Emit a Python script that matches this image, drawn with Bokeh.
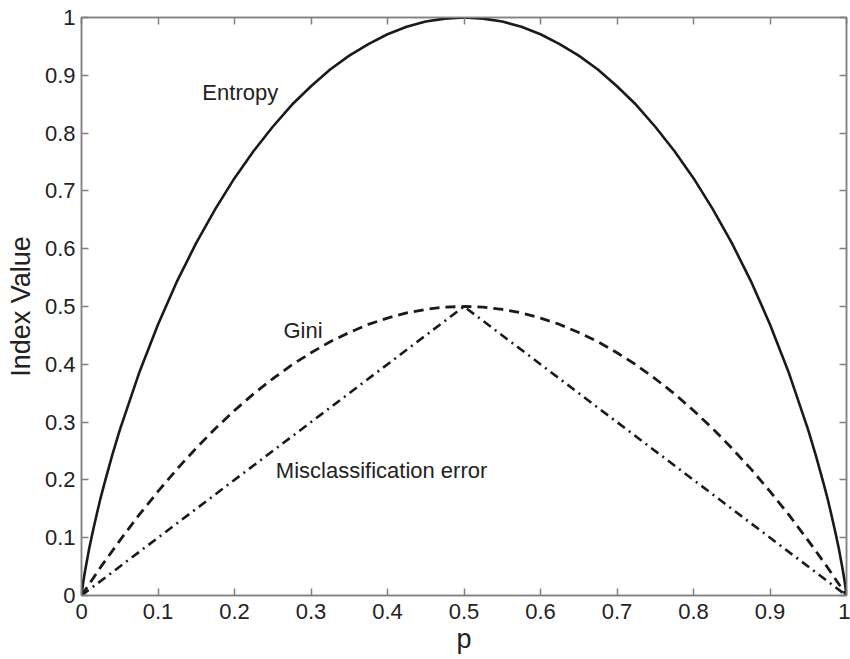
from bokeh.plotting import figure
from bokeh.models import Range1d, LinearAxis, FixedTicker, Label
from bokeh.embed import file_html
from bokeh.resources import INLINE

# ---- data ----
p_entropy = [0, 0.0025, 0.005, 0.01, 0.015, 0.02, 0.025, 0.03, 0.04, 0.05, 0.075, 0.1, 0.125, 0.15, 0.175,
             0.2, 0.225, 0.25, 0.275, 0.3, 0.325, 0.35, 0.375, 0.4, 0.425, 0.45, 0.475, 0.5,
             0.525, 0.55, 0.575, 0.6, 0.625, 0.65, 0.675, 0.7, 0.725, 0.75, 0.775, 0.8, 0.825,
             0.85, 0.875, 0.9, 0.925, 0.95, 0.96, 0.97, 0.975, 0.98, 0.985, 0.99, 0.995, 0.9975, 1]
entropy = [0, 0.025, 0.045, 0.081, 0.112, 0.141, 0.169, 0.194, 0.242, 0.286, 0.384, 0.469, 0.544, 0.610, 0.669,
           0.722, 0.769, 0.811, 0.849, 0.881, 0.910, 0.934, 0.954, 0.971, 0.984, 0.993, 0.998, 1.0,
           0.998, 0.993, 0.984, 0.971, 0.954, 0.934, 0.910, 0.881, 0.849, 0.811, 0.769, 0.722, 0.669,
           0.610, 0.544, 0.469, 0.384, 0.286, 0.242, 0.194, 0.169, 0.141, 0.112, 0.081, 0.045, 0.025, 0]

p_gini = [0, 0.025, 0.05, 0.075, 0.1, 0.125, 0.15, 0.175, 0.2, 0.225, 0.25, 0.275, 0.3, 0.325, 0.35, 0.375,
          0.4, 0.425, 0.45, 0.475, 0.5, 0.525, 0.55, 0.575, 0.6, 0.625, 0.65, 0.675, 0.7, 0.725, 0.75,
          0.775, 0.8, 0.825, 0.85, 0.875, 0.9, 0.925, 0.95, 0.975, 1]
gini = [0, 0.049, 0.095, 0.139, 0.18, 0.219, 0.255, 0.289, 0.32, 0.349, 0.375, 0.399, 0.42, 0.439, 0.455, 0.469,
        0.48, 0.489, 0.495, 0.499, 0.5, 0.499, 0.495, 0.489, 0.48, 0.469, 0.455, 0.439, 0.42, 0.399, 0.375,
        0.349, 0.32, 0.289, 0.255, 0.219, 0.18, 0.139, 0.095, 0.049, 0]

p_misc = [0, 0.5, 1]
misc = [0, 0.5, 0]

tick_values = [0, 0.1, 0.2, 0.3, 0.4, 0.5, 0.6, 0.7, 0.8, 0.9, 1]
tick_labels = ["0", "0.1", "0.2", "0.3", "0.4", "0.5", "0.6", "0.7", "0.8", "0.9", "1"]

labels = ["Entropy", "Gini", "Misclassification error"]
label_x = [0.158, 0.264, 0.254]
label_y = [0.870, 0.459, 0.216]

FONT = "Liberation Sans"
TXT = "#222222"
FRAME = "#808080"

p = figure(width=850, height=659, output_backend="svg", toolbar_location=None,
           x_range=Range1d(0, 1), y_range=Range1d(0, 1),
           min_border_left=81, min_border_right=4, min_border_top=17, min_border_bottom=64)
p.grid.visible = False
p.outline_line_color = FRAME
p.outline_line_width = 1.5
p.background_fill_color = "white"
p.border_fill_color = "white"

overrides = {v: s for v, s in zip(tick_values, tick_labels)}

def style(ax, show_labels=True):
    ax.ticker = FixedTicker(ticks=tick_values)
    ax.axis_line_color = FRAME
    ax.axis_line_width = 1.5
    ax.major_tick_line_color = FRAME
    ax.major_tick_line_width = 1.5
    ax.major_tick_in = 7
    ax.major_tick_out = 0
    ax.minor_tick_line_color = None
    ax.major_label_text_font = FONT
    ax.major_label_text_color = TXT
    if show_labels:
        ax.major_label_overrides = overrides
        ax.major_label_text_font_size = "22px"
    else:
        ax.major_label_overrides = {v: "" for v in tick_values}
        ax.major_label_text_color = None
        ax.major_label_text_font_size = "1px"
        ax.major_label_standoff = 0

style(p.xaxis[0])
style(p.yaxis[0])
p.xaxis[0].major_label_standoff = 8
p.yaxis[0].major_label_standoff = 6
p.xaxis.axis_label = "p"
p.yaxis.axis_label = "Index Value"
for ax in (p.xaxis[0], p.yaxis[0]):
    ax.axis_label_text_font = FONT
    ax.axis_label_text_font_style = "normal"
    ax.axis_label_text_font_size = "27px"
    ax.axis_label_text_color = TXT
p.xaxis[0].axis_label_standoff = 2
p.yaxis[0].axis_label_standoff = 6

top_ax = LinearAxis()
style(top_ax, show_labels=False)
p.add_layout(top_ax, "above")
right_ax = LinearAxis()
style(right_ax, show_labels=False)
p.add_layout(right_ax, "right")

p.line(p_entropy, entropy, line_color="#1a1a1a", line_width=2.6)
p.line(p_gini, gini, line_color="#1a1a1a", line_width=2.8, line_dash="10 6")
p.line(p_misc, misc, line_color="#1a1a1a", line_width=2.6, line_dash="9 5 2 5")

for t, x, y in zip(labels, label_x, label_y):
    p.add_layout(Label(x=x, y=y, text=t, text_font=FONT, text_font_size="22px",
                       text_color=TXT, text_align="left", text_baseline="alphabetic"))

open("out.html", "w").write(file_html(p, INLINE))
